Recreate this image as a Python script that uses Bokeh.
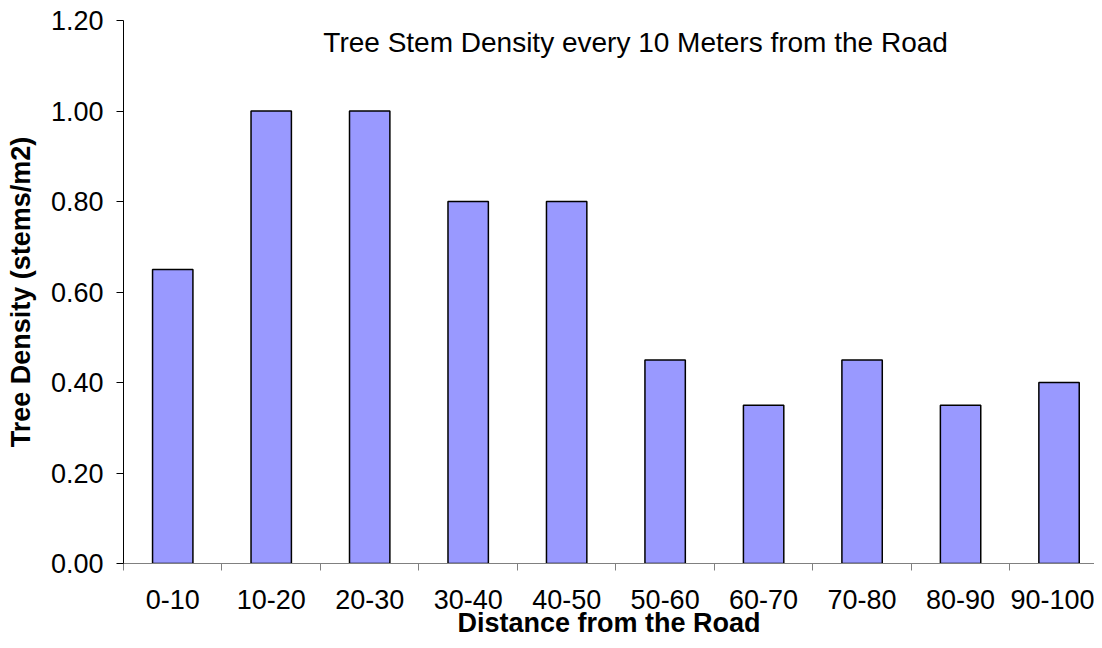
from bokeh.plotting import figure
from bokeh.models import Range1d, FixedTicker, Label, NumeralTickFormatter, ColumnDataSource
from bokeh.embed import file_html
from bokeh.resources import INLINE

categories = ["0-10", "10-20", "20-30", "30-40", "40-50", "50-60", "60-70", "70-80", "80-90", "90-100"]
density = [0.65, 1.00, 1.00, 0.80, 0.80, 0.45, 0.35, 0.45, 0.35, 0.40]
y_ticks = [0.0, 0.2, 0.4, 0.6, 0.8, 1.0, 1.2]
title_text = "Tree Stem Density every 10 Meters from the Road"
x_title = "Distance from the Road"
y_title = "Tree Density (stems/m2)"

FONT = "Liberation Sans"

centers = [i + 0.5 for i in range(len(categories))]
source = ColumnDataSource(dict(x=centers, top=density))

p = figure(width=1094, height=640, output_backend="svg", toolbar_location=None,
           x_range=Range1d(0, 9.86), y_range=Range1d(0, 1.2),
           min_border_left=123, min_border_right=0, min_border_top=20, min_border_bottom=76)
p.outline_line_color = None
p.grid.visible = False
p.background_fill_color = "white"
p.border_fill_color = "white"

p.vbar(x="x", top="top", width=0.41, source=source, fill_color="#9999FF",
       line_color="black", line_width=1.5)

# x axis
p.xaxis.ticker = FixedTicker(ticks=centers, minor_ticks=list(range(len(categories) + 1)))
p.xaxis.major_label_overrides = {c: lab for c, lab in zip(centers, categories)}
p.xaxis.major_tick_out = 0
p.xaxis.major_tick_in = 0
p.xaxis.minor_tick_out = 7
p.xaxis.minor_tick_in = 0
p.xaxis.minor_tick_line_color = "#808080"
p.xaxis.axis_line_color = "#808080"
p.xaxis.major_label_text_font = FONT
p.xaxis.major_label_text_font_size = "27px"
p.xaxis.major_label_text_color = "black"
p.xaxis.major_label_standoff = 19
p.xaxis.axis_label = x_title
p.xaxis.axis_label_text_font = FONT
p.xaxis.axis_label_text_font_style = "bold"
p.xaxis.axis_label_text_font_size = "27px"
p.xaxis.axis_label_text_color = "black"
p.xaxis.axis_label_standoff = -4

# y axis
p.yaxis.ticker = FixedTicker(ticks=y_ticks, minor_ticks=[])
p.yaxis.formatter = NumeralTickFormatter(format="0.00")
p.yaxis.major_tick_out = 7
p.yaxis.major_tick_in = 0
p.yaxis.major_tick_line_color = "black"
p.yaxis.axis_line_color = "black"
p.yaxis.major_label_text_font = FONT
p.yaxis.major_label_text_font_size = "27px"
p.yaxis.major_label_text_color = "black"
p.yaxis.major_label_standoff = 13
p.yaxis.axis_label = y_title
p.yaxis.axis_label_text_font = FONT
p.yaxis.axis_label_text_font_style = "bold"
p.yaxis.axis_label_text_font_size = "27px"
p.yaxis.axis_label_text_color = "black"
p.yaxis.axis_label_standoff = 12

p.add_layout(Label(x=5.2, y=1.151, text=title_text,
                   text_font=FONT, text_font_size="28px", text_align="center",
                   text_baseline="middle", text_color="black"))

open("out.html", "w").write(file_html(p, INLINE))
